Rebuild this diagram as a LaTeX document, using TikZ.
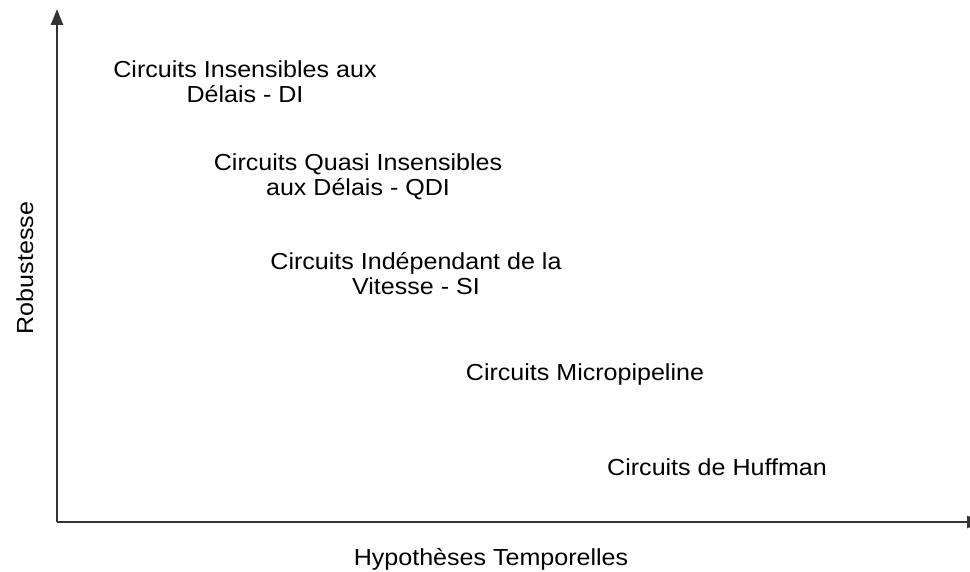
\documentclass[tikz,border=0pt]{standalone}
\usepackage{fontspec}
\setmainfont{Liberation Sans}[FakeStretch=1.08]
\usetikzlibrary{arrows.meta}

\begin{document}
\begin{tikzpicture}[x=1pt,y=-1pt]
        \tikzstyle{axe}=[draw=black!80, line width=2.4pt, -{Triangle[length=16pt,width=12pt]}]
        \tikzstyle{classe}=[align=center, inner sep=0pt, font=\fontsize{23.2}{25}\selectfont]
        \useasboundingbox (0,0) rectangle (970,572);
        \coordinate (o) at (57,522);
        \coordinate (haut) at (57,9);
        \coordinate (droite) at (983,522);
        \draw[axe] (o) -- (haut);
        \draw[axe] (o) -- (droite);
        \node[classe] (di) at (245,82) {Circuits Insensibles aux\\Délais - DI};
        \node[classe] (qdi) at (358,177) {Circuits Quasi Insensibles\\aux Délais - QDI};
        \node[classe] (si) at (416,274) {Circuits Indépendant de la\\Vitesse - SI};
        \node[classe, anchor=base] (micro) at (585,380) {Circuits Micropipeline};
        \node[classe, anchor=base] (huff) at (717,475) {Circuits de Huffman};
        \node[classe, anchor=base] (hyp) at (491,565) {Hypothèses Temporelles};
        \node[classe, anchor=base, rotate=90] (rob) at (33,268) {Robustesse};
\end{tikzpicture}
\end{document}
